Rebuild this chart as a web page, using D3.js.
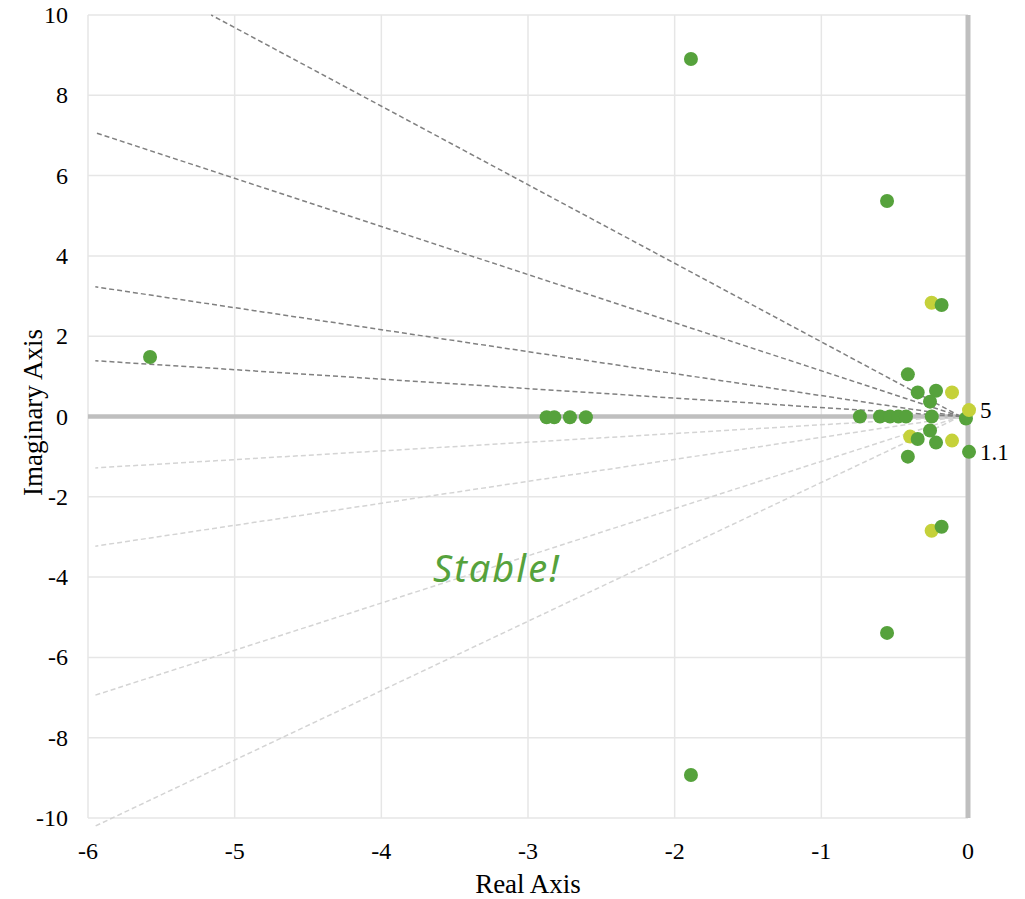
<!DOCTYPE html>
<html>
<head>
<meta charset="utf-8">
<script src="https://cdn.jsdelivr.net/npm/d3@7"></script>
<style>
body { margin: 0; background: #fff; }
text { font-family: "Liberation Serif", "Times New Roman", serif; }
</style>
</head>
<body>
<div id="chart"></div>
<script>
// pole-zero style scatter with damping lines

var xTicks = [-6, -5, -4, -3, -2, -1, 0];
var yTicks = [-10, -8, -6, -4, -2, 0, 2, 4, 6, 8, 10];

// dashed damping lines, far end (the other end sits near the origin)
var upperLines = [[-5.16, 10], [-5.95, 7.07], [-5.95, 3.23], [-5.95, 1.39]];
var lowerLines = [[-5.95, -1.28], [-5.95, -3.23], [-5.95, -6.94], [-5.95, -10.2]];
var lineOrigin = [-0.05, 0];

// yellow series
var yellowPts = [[-0.248, 2.834], [-0.248, -2.844], [-0.109, 0.6], [-0.109, -0.6], [-0.395, -0.5]];

// green series
var greenPts = [
  [-1.889, 8.904], [-1.889, -8.93], [-0.552, 5.367], [-0.552, -5.39],
  [-0.18, 2.777], [-0.18, -2.745], [-5.577, 1.482],
  [-2.873, -0.02], [-2.821, -0.02], [-2.714, -0.02], [-2.605, -0.02],
  [-0.737, 0], [-0.60, 0], [-0.532, 0], [-0.475, 0], [-0.423, 0],
  [-0.41, 1.05], [-0.41, -1.0], [-0.343, 0.6], [-0.343, -0.56],
  [-0.218, 0.64], [-0.218, -0.65], [-0.259, 0.37], [-0.259, -0.35],
  [-0.247, 0], [-0.014, -0.05]
];

// labelled points
var labelPts = [[0.007, 0.16, "5", "yellow"], [0.007, -0.88, "1.1", "green"]];

var width = 1025, height = 899;
var margin = {top: 15, right: 57, bottom: 81, left: 88};

var green = "#56a23c", yellow = "#c5d13a";

var svg = d3.select("#chart").append("svg")
    .attr("width", width)
    .attr("height", height);

var x = d3.scaleLinear().domain([-6, 0]).range([margin.left, width - margin.right]);
var y = d3.scaleLinear().domain([-10, 10]).range([height - margin.bottom, margin.top]);

// grid
svg.append("g").selectAll("line")
    .data(xTicks.filter(function(d) { return d !== 0; }))
    .enter().append("line")
    .attr("x1", function(d) { return x(d); })
    .attr("x2", function(d) { return x(d); })
    .attr("y1", y(10)).attr("y2", y(-10))
    .attr("stroke", "#e6e6e6").attr("stroke-width", 1.5);

svg.append("g").selectAll("line")
    .data(yTicks.filter(function(d) { return d !== 0; }))
    .enter().append("line")
    .attr("x1", x(-6)).attr("x2", x(0))
    .attr("y1", function(d) { return y(d); })
    .attr("y2", function(d) { return y(d); })
    .attr("stroke", "#e6e6e6").attr("stroke-width", 1.5);

// axes lines through zero
svg.append("line")
    .attr("x1", x(-6)).attr("x2", x(0))
    .attr("y1", y(0)).attr("y2", y(0))
    .attr("stroke", "#bfbfbf").attr("stroke-width", 4.5);
svg.append("line")
    .attr("x1", x(0)).attr("x2", x(0))
    .attr("y1", y(10)).attr("y2", y(-10))
    .attr("stroke", "#bfbfbf").attr("stroke-width", 5);

// tick labels
svg.append("g").selectAll("text")
    .data(xTicks)
    .enter().append("text")
    .attr("x", function(d) { return x(d); })
    .attr("y", 859)
    .attr("text-anchor", "middle")
    .style("font-size", "24px")
    .text(function(d) { return d; });

svg.append("g").selectAll("text")
    .data(yTicks)
    .enter().append("text")
    .attr("x", 68)
    .attr("y", function(d) { return y(d) + 8; })
    .attr("text-anchor", "end")
    .style("font-size", "24px")
    .text(function(d) { return d; });

// axis titles
svg.append("text")
    .attr("x", 528).attr("y", 893)
    .attr("text-anchor", "middle")
    .style("font-size", "27px")
    .text("Real Axis");

svg.append("text")
    .attr("transform", "translate(42," + y(0.1) + ") rotate(-90)")
    .attr("text-anchor", "middle")
    .style("font-size", "27px")
    .text("Imaginary Axis");

// damping lines
svg.append("g").selectAll("line")
    .data(lowerLines)
    .enter().append("line")
    .attr("x1", x(lineOrigin[0])).attr("y1", y(lineOrigin[1]))
    .attr("x2", function(d) { return x(d[0]); })
    .attr("y2", function(d) { return y(d[1]); })
    .attr("stroke", "#d4d4d4").attr("stroke-width", 1.5)
    .attr("stroke-dasharray", "5,3");

svg.append("g").selectAll("line")
    .data(upperLines)
    .enter().append("line")
    .attr("x1", x(lineOrigin[0])).attr("y1", y(lineOrigin[1]))
    .attr("x2", function(d) { return x(d[0]); })
    .attr("y2", function(d) { return y(d[1]); })
    .attr("stroke", "#808080").attr("stroke-width", 1.5)
    .attr("stroke-dasharray", "5,3");

// points
svg.append("g").selectAll("circle")
    .data(yellowPts)
    .enter().append("circle")
    .attr("cx", function(d) { return x(d[0]); })
    .attr("cy", function(d) { return y(d[1]); })
    .attr("r", 7)
    .attr("fill", yellow);

svg.append("g").selectAll("circle")
    .data(greenPts)
    .enter().append("circle")
    .attr("cx", function(d) { return x(d[0]); })
    .attr("cy", function(d) { return y(d[1]); })
    .attr("r", 7)
    .attr("fill", green);

svg.append("g").selectAll("circle")
    .data(labelPts)
    .enter().append("circle")
    .attr("cx", function(d) { return x(d[0]); })
    .attr("cy", function(d) { return y(d[1]); })
    .attr("r", 7)
    .attr("fill", function(d) { return d[3] === "yellow" ? yellow : green; });

svg.append("g").selectAll("text")
    .data(labelPts)
    .enter().append("text")
    .attr("x", function(d) { return x(d[0]) + 11; })
    .attr("y", function(d) { return y(d[1]) + 8; })
    .style("font-size", "23px")
    .text(function(d) { return d[2]; });

// annotation
svg.append("text")
    .attr("x", 497).attr("y", 582)
    .attr("text-anchor", "middle")
    .style("font-family", "'Noto Sans', 'Open Sans', sans-serif")
    .style("font-style", "italic")
    .style("font-size", "38px")
    .style("letter-spacing", "2px")
    .attr("fill", green)
    .text("Stable!");
</script>
</body>
</html>
